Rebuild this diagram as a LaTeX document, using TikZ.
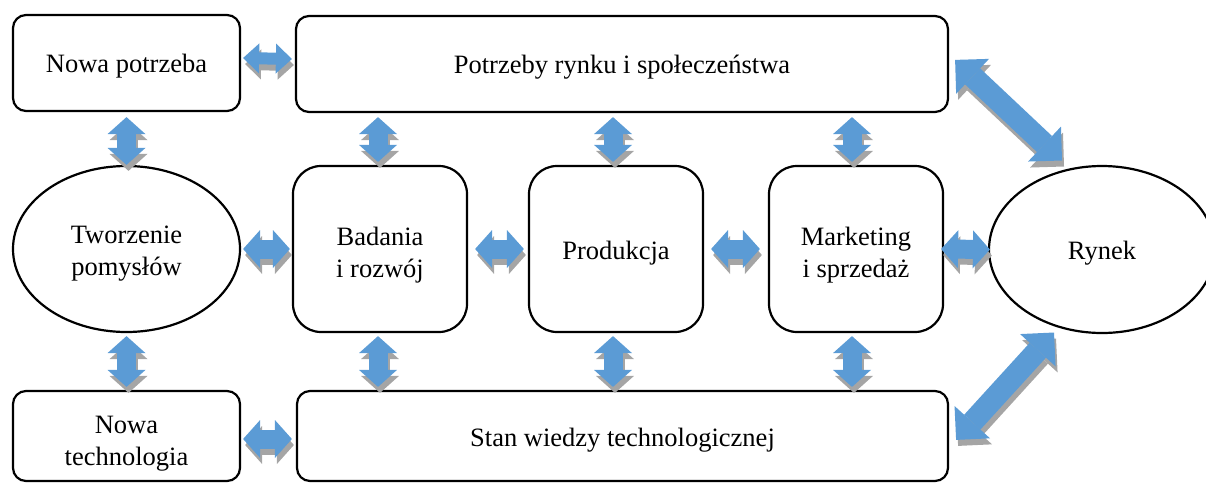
\documentclass[tikz,border=0pt]{standalone}
\usepackage{fontspec}
\setmainfont{Liberation Serif}
\usetikzlibrary{arrows.meta,calc,shapes.geometric}
\definecolor{linkblue}{HTML}{5B9BD5}
\definecolor{linkshade}{HTML}{A5A5A5}
\tikzset{
  lbl/.style={font=\fontsize{26.5}{32}\selectfont, align=center, inner sep=0pt},
  frame/.style={draw, line width=2.2pt, inner sep=0pt},
  card/.style={frame, rounded corners=13pt},
  bigcard/.style={frame, rounded corners=28pt},
  oval/.style={frame, ellipse},
  headS/.tip={Triangle[width=30pt,length=16pt,line width=0pt]},
  headM/.tip={Triangle[width=38pt,length=17pt,line width=0pt]},
  headL/.tip={Triangle[width=48pt,length=24pt,line width=0pt]},
  lnkS/.style={line width=12pt, headS-headS},
  lnkM/.style={line width=19pt, headM-headM},
  lnkL/.style={line width=22pt, headL-headL},
}
% block double arrow with a grey drop shadow
\newcommand\linkarrow[3][lnkM]{%
  \draw[#1, linkshade, transform canvas={shift={(2,6)}}] #2 -- #3;
  \draw[#1, linkblue] #2 -- #3;}
\begin{document}
\begin{tikzpicture}[x=1pt, y=-1pt]
\useasboundingbox (0,0) rectangle (1206,482);

% boxes and ovals, the text set slightly below each centre
\node[card, minimum width=227pt, minimum height=96pt,
  label={[lbl, yshift=-3pt]center:Nowa potrzeba}] (np) at (126.5,63) {};
\node[card, minimum width=652pt, minimum height=96pt,
  label={[lbl, yshift=-3pt]center:Potrzeby rynku i społeczeństwa}] (pot) at (622,64) {};
\node[oval, minimum width=227pt, minimum height=166pt,
  label={[lbl, yshift=-5pt]center:{Tworzenie\\pomysłów}}] (tw) at (126.5,249) {};
\node[bigcard, minimum width=174pt, minimum height=166pt,
  label={[lbl, yshift=-6pt]center:{Badania\\i rozwój}}] (bad) at (380,249) {};
\node[bigcard, minimum width=174pt, minimum height=166pt,
  label={[lbl, yshift=-4pt]center:Produkcja}] (prod) at (616,249) {};
\node[bigcard, minimum width=174pt, minimum height=166pt,
  label={[lbl, yshift=-6pt]center:{Marketing\\i sprzedaż}}] (mark) at (856,249) {};
\node[oval, minimum width=226pt, minimum height=167pt,
  label={[lbl, yshift=-4pt]center:Rynek}] (ryn) at (1102,249.5) {};
\node[card, minimum width=227pt, minimum height=90pt,
  label={[lbl, yshift=-8pt]center:{Nowa\\technologia}}] (nt) at (126.5,436) {};
\node[card, minimum width=651pt, minimum height=90pt,
  label={[lbl, yshift=-4pt]center:Stan wiedzy technologicznej}] (stan) at (622.5,436) {};

% anchor points of the vertical links, a little left of each box centre
\coordinate (badx) at ($(bad.north)+(-2,0)$);
\coordinate (prodx) at ($(prod.north)+(-3,0)$);
\coordinate (markx) at ($(mark.north)+(-4,0)$);
\coordinate (badb) at ($(bad.south)+(-2,0)$);
\coordinate (prodb) at ($(prod.south)+(-3,0)$);
\coordinate (markb) at ($(mark.south)+(-4,0)$);

% horizontal links
\linkarrow[lnkS]{($(np.east)+(2,-5)$)}{($(pot.west)+(-3,-5)$)}
\linkarrow[lnkM, shorten <=2pt, shorten >=2pt]{(tw.east)}{(bad.west)}
\linkarrow[lnkM, shorten <=7pt, shorten >=4pt]{(bad.east)}{(prod.west)}
\linkarrow[lnkM, shorten <=7pt, shorten >=8pt]{(prod.east)}{(mark.west)}
\linkarrow[lnkM, shorten <=-3pt, shorten >=-2pt]{(mark.east)}{(ryn.west)}
\linkarrow[lnkM]{($(nt.east)+(2,3)$)}{($(stan.west)+(-4,3)$)}

% vertical links, upper row
\linkarrow[lnkM, shorten <=5pt]{(np.south)}{(tw.north)}
\linkarrow[lnkM, shorten <=4pt, shorten >=3pt]{(badx |- pot.south)}{(badx)}
\linkarrow[lnkM, shorten <=4pt, shorten >=3pt]{(prodx |- pot.south)}{(prodx)}
\linkarrow[lnkM, shorten <=4pt, shorten >=3pt]{(markx |- pot.south)}{(markx)}

% vertical links, lower row
\linkarrow[lnkM, shorten <=3pt, shorten >=3pt]{(tw.south)}{(nt.north)}
\linkarrow[lnkM, shorten <=3pt, shorten >=3pt]{(badb)}{(badb |- stan.north)}
\linkarrow[lnkM, shorten <=3pt, shorten >=3pt]{(prodb)}{(prodb |- stan.north)}
\linkarrow[lnkM, shorten <=3pt, shorten >=3pt]{(markb)}{(markb |- stan.north)}

% diagonal links to the market
\coordinate (q1a) at ($(pot.north east)+(6,45)$);
\coordinate (q1b) at ($(ryn.center)+(-40,-89)$);
\coordinate (q2a) at ($(stan.north east)+(7,50)$);
\coordinate (q2b) at ($(ryn.center)+(-48,83)$);
\linkarrow[lnkL]{(q1a)}{(q1b)}
\linkarrow[lnkL]{(q2a)}{(q2b)}
\end{tikzpicture}
\end{document}
